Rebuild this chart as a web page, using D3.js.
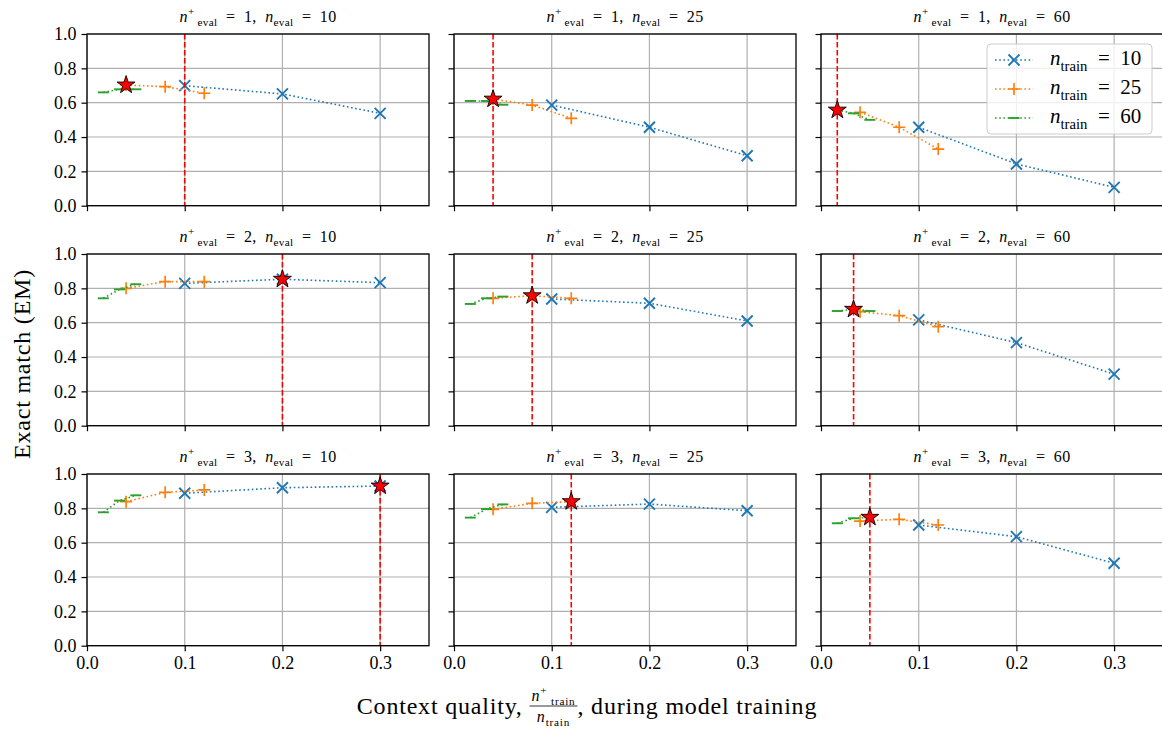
<!DOCTYPE html>
<html>
<head>
<meta charset="utf-8">
<script src="https://cdn.jsdelivr.net/npm/d3@7"></script>
<style>
  body { margin: 0; background: #fff; }
  svg { display: block; font-family: "Liberation Serif", "DejaVu Serif", serif; }
  text { white-space: pre; }
</style>
</head>
<body>
<svg id="chart"></svg>
<script>
// rows: n+_eval, columns: n_eval
const nEvalPos = [1, 2, 3];
const nEval = [10, 25, 60];

// x positions (context quality during training) for each n_train
const xTrain10 = [0.1, 0.2, 0.3];
const xTrain25 = [0.04, 0.08, 0.12];
const xTrain60 = [0.0167, 0.0333, 0.05];

// EM values [row][col][point]
const em10 = [
  [[0.699, 0.651, 0.538], [0.586, 0.457, 0.291], [0.457, 0.243, 0.107]],
  [[0.829, 0.853, 0.833], [0.738, 0.713, 0.610], [0.616, 0.484, 0.300]],
  [[0.888, 0.920, 0.930], [0.806, 0.825, 0.786], [0.703, 0.635, 0.480]]
];
const em25 = [
  [[0.703, 0.693, 0.655], [0.621, 0.586, 0.509], [0.544, 0.457, 0.330]],
  [[0.800, 0.839, 0.839], [0.742, 0.757, 0.742], [0.664, 0.641, 0.577]],
  [[0.839, 0.893, 0.907], [0.794, 0.829, 0.839], [0.726, 0.736, 0.703]]
];
const em60 = [
  [[0.660, 0.678, 0.678], [0.610, 0.610, 0.588], [0.557, 0.538, 0.500]],
  [[0.742, 0.794, 0.824], [0.709, 0.742, 0.752], [0.668, 0.678, 0.668]],
  [[0.777, 0.845, 0.876], [0.746, 0.796, 0.823], [0.713, 0.742, 0.748]]
];

const xTicks = [0, 0.1, 0.2, 0.3];
const yTicks = [0, 0.2, 0.4, 0.6, 0.8, 1.0];

const series = [
  { n: 10, xs: xTrain10, em: em10, color: '#1f77b4', marker: 'x' },
  { n: 25, xs: xTrain25, em: em25, color: '#ff7f0e', marker: '+' },
  { n: 60, xs: xTrain60, em: em60, color: '#2ca02c', marker: '_' }
];

const width = 1162, height = 729;
const colLeft = [87, 454, 821];
const rowTop = [34, 254, 474];
const pw = 342, ph = 171.7;

const svg = d3.select('#chart').attr('width', width).attr('height', height);

const x = d3.scaleLinear().domain([0, 0.35]).range([0, pw]);
const y = d3.scaleLinear().domain([0, 1]).range([ph, 0]);

// writes a run of plain / italic / sup / sub parts into a text element
function mathParts(text, parts, fs) {
  let cur = 0;
  parts.forEach(p => {
    const target = p.sup ? -0.42 * fs : p.sub ? 0.28 * fs : 0;
    const ts = text.append('tspan').attr('dy', target - cur).text(p.t);
    cur = target;
    if (p.sup || p.sub) ts.attr('font-size', fs * 0.7);
    if (p.it) ts.attr('font-style', 'italic');
  });
}

function drawMarker(g, type, color) {
  if (type === 'x') {
    g.append('path').attr('d', 'M-5.5,-5.5L5.5,5.5M-5.5,5.5L5.5,-5.5')
      .attr('stroke', color).attr('stroke-width', 1.9).attr('fill', 'none');
  } else if (type === '+') {
    g.append('path').attr('d', 'M-6,0L6,0M0,-6L0,6')
      .attr('stroke', color).attr('stroke-width', 1.7).attr('fill', 'none');
  } else {
    g.append('path').attr('d', 'M-5.5,0L5.5,0')
      .attr('stroke', color).attr('stroke-width', 1.9).attr('fill', 'none');
  }
}

const line = d3.line().x(d => x(d[0])).y(d => y(d[1]));
const star = d3.symbol().type(d3.symbolStar).size(100);

nEvalPos.forEach((pos, r) => {
  nEval.forEach((ne, c) => {
    const g = svg.append('g').attr('transform', `translate(${colLeft[c]},${rowTop[r]})`);

    // grid
    g.append('g').selectAll('line').data(xTicks).join('line')
      .attr('x1', d => x(d)).attr('x2', d => x(d)).attr('y1', 0).attr('y2', ph)
      .attr('stroke', '#b0b0b0').attr('stroke-width', 1.2);
    g.append('g').selectAll('line').data(yTicks).join('line')
      .attr('y1', d => y(d)).attr('y2', d => y(d)).attr('x1', 0).attr('x2', pw)
      .attr('stroke', '#b0b0b0').attr('stroke-width', 1.2);

    // series
    series.forEach(s => {
      const pts = s.xs.map((xv, i) => [xv, s.em[r][c][i]]);
      g.append('path').datum(pts).attr('d', line)
        .attr('fill', 'none').attr('stroke', s.color).attr('stroke-width', 1.6)
        .attr('stroke-dasharray', '1.6,2.6');
      pts.forEach(p => {
        drawMarker(g.append('g').attr('transform', `translate(${x(p[0])},${y(p[1])})`), s.marker, s.color);
      });
    });

    // evaluation context quality
    const xv = pos / ne;
    g.append('line').attr('x1', x(xv)).attr('x2', x(xv)).attr('y1', 0).attr('y2', ph)
      .attr('stroke', '#ff0000').attr('stroke-width', 1.6).attr('stroke-dasharray', '5.6,2.4');

    // best point
    let best = null;
    series.forEach(s => s.xs.forEach((xx, i) => {
      const v = s.em[r][c][i];
      if (!best || v > best[1]) best = [xx, v];
    }));
    g.append('path').attr('d', star)
      .attr('transform', `translate(${x(best[0])},${y(best[1])})`)
      .attr('fill', '#ff0000').attr('stroke', '#000').attr('stroke-width', 0.9);

    // axes
    const ax = g.append('g').attr('transform', `translate(0,${ph})`)
      .call(d3.axisBottom(x).tickValues(xTicks).tickSize(5.5).tickPadding(5)
        .tickFormat(r === 2 ? d3.format('.1f') : () => ''));
    const ay = g.append('g')
      .call(d3.axisLeft(y).tickValues(yTicks).tickSize(5.5).tickPadding(5)
        .tickFormat(c === 0 ? d3.format('.1f') : () => ''));
    [ax, ay].forEach(a => {
      a.select('.domain').remove();
      a.selectAll('line').attr('stroke', '#000').attr('stroke-width', 1.2);
      a.selectAll('text').attr('font-size', 18).attr('fill', '#000')
        .attr('font-family', '"Liberation Serif", serif');
    });

    // frame
    g.append('rect').attr('width', pw).attr('height', ph)
      .attr('fill', 'none').attr('stroke', '#000').attr('stroke-width', 1.3);

    // title
    const t = g.append('text').attr('x', pw / 2).attr('y', -12)
      .attr('text-anchor', 'middle').attr('font-size', 16).attr('letter-spacing', 0.3);
    mathParts(t, [
      { t: 'n', it: true }, { t: '+', sup: true }, { t: ' eval', sub: true },
      { t: `  =  ${pos},  ` }, { t: 'n', it: true }, { t: 'eval', sub: true },
      { t: `  =  ${ne}` }
    ], 16);
  });
});

// legend in the top-right panel
const lg = svg.append('g').attr('transform', 'translate(987,44)');
lg.append('rect').attr('width', 165).attr('height', 90).attr('rx', 4)
  .attr('fill', '#fff').attr('fill-opacity', 0.8)
  .attr('stroke', '#cccccc').attr('stroke-width', 1);
series.forEach((s, i) => {
  const ly = 16 + i * 29;
  lg.append('line').attr('x1', 8).attr('x2', 46).attr('y1', ly).attr('y2', ly)
    .attr('stroke', s.color).attr('stroke-width', 1.6).attr('stroke-dasharray', '1.6,2.6');
  drawMarker(lg.append('g').attr('transform', `translate(27,${ly})`), s.marker, s.color);
  const t = lg.append('text').attr('x', 63).attr('y', ly + 5).attr('font-size', 21);
  mathParts(t, [{ t: 'n', it: true }, { t: 'train', sub: true }, { t: `  =  ${s.n}` }], 21);
});

// y label
svg.append('text').attr('transform', 'translate(30,364) rotate(-90)')
  .attr('text-anchor', 'middle').attr('font-size', 24).attr('letter-spacing', 0.8)
  .text('Exact match (EM)');

// x label with fraction
const xl = svg.append('g').attr('letter-spacing', 0.8);
const t1 = xl.append('text').attr('x', 0).attr('y', 714).attr('font-size', 24).text('Context quality, ');
const w1 = t1.node().getComputedTextLength();
const num = xl.append('text').attr('y', 701).attr('font-size', 16).attr('text-anchor', 'middle');
mathParts(num, [{ t: 'n', it: true }, { t: '+', sup: true }, { t: ' train', sub: true }], 16);
const den = xl.append('text').attr('y', 722).attr('font-size', 16).attr('text-anchor', 'middle');
mathParts(den, [{ t: 'n', it: true }, { t: 'train', sub: true }], 16);
const fw = Math.max(num.node().getComputedTextLength(), den.node().getComputedTextLength()) + 4;
num.attr('x', w1 + fw / 2);
den.attr('x', w1 + fw / 2);
xl.append('line').attr('x1', w1).attr('x2', w1 + fw).attr('y1', 706).attr('y2', 706)
  .attr('stroke', '#000').attr('stroke-width', 0.8);
const t2 = xl.append('text').attr('x', w1 + fw).attr('y', 714).attr('font-size', 24)
  .text(', during model training');
const total = w1 + fw + t2.node().getComputedTextLength();
xl.attr('transform', `translate(${587 - total / 2},0)`);
</script>
</body>
</html>
